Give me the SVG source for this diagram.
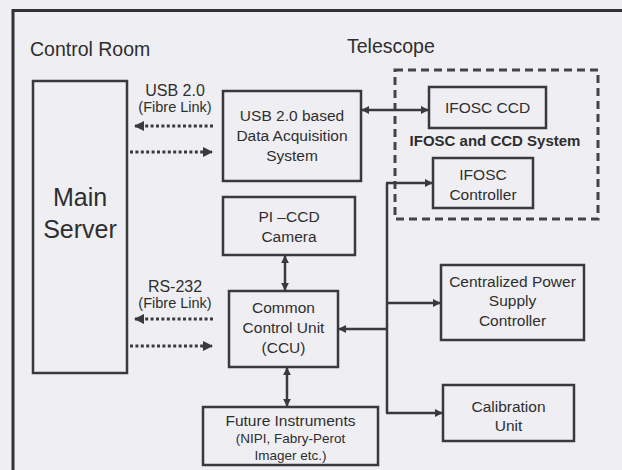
<svg xmlns="http://www.w3.org/2000/svg" width="622" height="470" viewBox="0 0 622 470">
<defs>
<style>
text{font-family:"Liberation Sans",Arial,sans-serif;fill:#2e2e2e;}
.box{fill:none;stroke:#3a3a3a;stroke-width:2.5;}
.t{font-size:15.5px;text-anchor:middle;}
.lbl{text-anchor:middle;}
.ln{fill:none;stroke:#3a3a3a;stroke-width:2.5;}
.dot{fill:none;stroke:#3a3a3a;stroke-width:3;stroke-dasharray:3 2.4;}
</style>
<marker id="ah" viewBox="0 0 10 10" refX="9" refY="5" markerWidth="8" markerHeight="8" markerUnits="userSpaceOnUse" orient="auto-start-reverse">
<path d="M0,0 L10,5 L0,10 z" fill="#3a3a3a"/>
</marker>
<marker id="ahb" viewBox="0 0 10 10" refX="9" refY="5" markerWidth="10" markerHeight="10" markerUnits="userSpaceOnUse" orient="auto-start-reverse">
<path d="M0,0 L10,5 L0,10 z" fill="#3a3a3a"/>
</marker>
</defs>
<rect x="0" y="0" width="622" height="470" fill="#efeef3"/>
<path d="M13,472 L13,10.5 L624,10.5" fill="none" stroke="#333" stroke-width="3"/>

<text x="30" y="56" font-size="19.5">Control Room</text>
<text x="347" y="53" font-size="19.5">Telescope</text>

<g id="main-server">
<rect class="box" x="33" y="81" width="94" height="292"/>
<text class="lbl" x="80" y="206" font-size="25">Main</text>
<text class="lbl" x="80" y="238" font-size="25">Server</text>
</g>

<g id="ifosc-system">
<rect x="395" y="70" width="203" height="149" fill="none" stroke="#444" stroke-width="3" stroke-dasharray="8 5"/>
<text class="lbl" x="495" y="146" font-size="15" font-weight="bold">IFOSC and CCD System</text>
</g>

<g id="das">
<rect class="box" x="223" y="91" width="138" height="90"/>
<text class="t" x="292" y="121">USB 2.0 based</text>
<text class="t" x="292" y="141">Data Acquisition</text>
<text class="t" x="292" y="161">System</text>
</g>

<g id="pi-ccd">
<rect class="box" x="223" y="197" width="132" height="58"/>
<text class="t" x="289" y="222">PI –CCD</text>
<text class="t" x="289" y="242">Camera</text>
</g>

<g id="ccu">
<rect class="box" x="229" y="291" width="109" height="76"/>
<text class="t" x="283.5" y="313">Common</text>
<text class="t" x="283.5" y="333">Control Unit</text>
<text class="t" x="283.5" y="353">(CCU)</text>
</g>

<g id="future">
<rect class="box" x="203" y="407" width="175" height="58"/>
<text class="t" x="290.5" y="426">Future Instruments</text>
<text class="lbl" x="290.5" y="443" font-size="13.5">(NIPI, Fabry-Perot</text>
<text class="lbl" x="290.5" y="460" font-size="13.5">Imager etc.)</text>
</g>

<g id="ifosc-ccd">
<rect class="box" x="429" y="87" width="117" height="41"/>
<text class="t" x="487.5" y="113" font-size="16">IFOSC CCD</text>
</g>

<g id="ifosc-controller">
<rect class="box" x="433" y="158" width="100" height="50"/>
<text class="t" x="483" y="180">IFOSC</text>
<text class="t" x="483" y="200">Controller</text>
</g>

<g id="power">
<rect class="box" x="441" y="265" width="143" height="75"/>
<text class="t" x="512.5" y="287">Centralized Power</text>
<text class="t" x="512.5" y="306">Supply</text>
<text class="t" x="512.5" y="326">Controller</text>
</g>

<g id="calibration">
<rect class="box" x="443" y="385" width="131" height="56"/>
<text class="t" x="508.5" y="412">Calibration</text>
<text class="t" x="508.5" y="431">Unit</text>
</g>

<g id="labels">
<text class="lbl" x="175" y="96" font-size="16">USB 2.0</text>
<text class="lbl" x="175" y="112" font-size="14.5">(Fibre Link)</text>
<text class="lbl" x="175" y="292" font-size="16">RS-232</text>
<text class="lbl" x="175" y="308" font-size="14.5">(Fibre Link)</text>
</g>

<g id="connectors">
<line class="dot" x1="213" y1="126" x2="135" y2="126" marker-end="url(#ahb)"/>
<line class="dot" x1="130" y1="152" x2="212" y2="152" marker-end="url(#ahb)"/>
<line class="dot" x1="213" y1="319" x2="135" y2="319" marker-end="url(#ahb)"/>
<line class="dot" x1="130" y1="346" x2="212" y2="346" marker-end="url(#ahb)"/>
<line class="ln" x1="362" y1="110" x2="428" y2="110" marker-start="url(#ah)" marker-end="url(#ah)"/>
<line class="ln" x1="285" y1="256" x2="285" y2="290" marker-start="url(#ah)" marker-end="url(#ah)"/>
<line class="ln" x1="287" y1="368" x2="287" y2="406" marker-start="url(#ah)" marker-end="url(#ah)"/>
<path class="ln" d="M387,183 L387,413"/>
<line class="ln" x1="386" y1="183" x2="432" y2="183" marker-end="url(#ah)"/>
<line class="ln" x1="387" y1="303" x2="440" y2="303" marker-end="url(#ah)"/>
<line class="ln" x1="386" y1="413" x2="442" y2="413" marker-end="url(#ah)"/>
<line class="ln" x1="387" y1="329" x2="339" y2="329" marker-end="url(#ah)"/>
</g>
</svg>
